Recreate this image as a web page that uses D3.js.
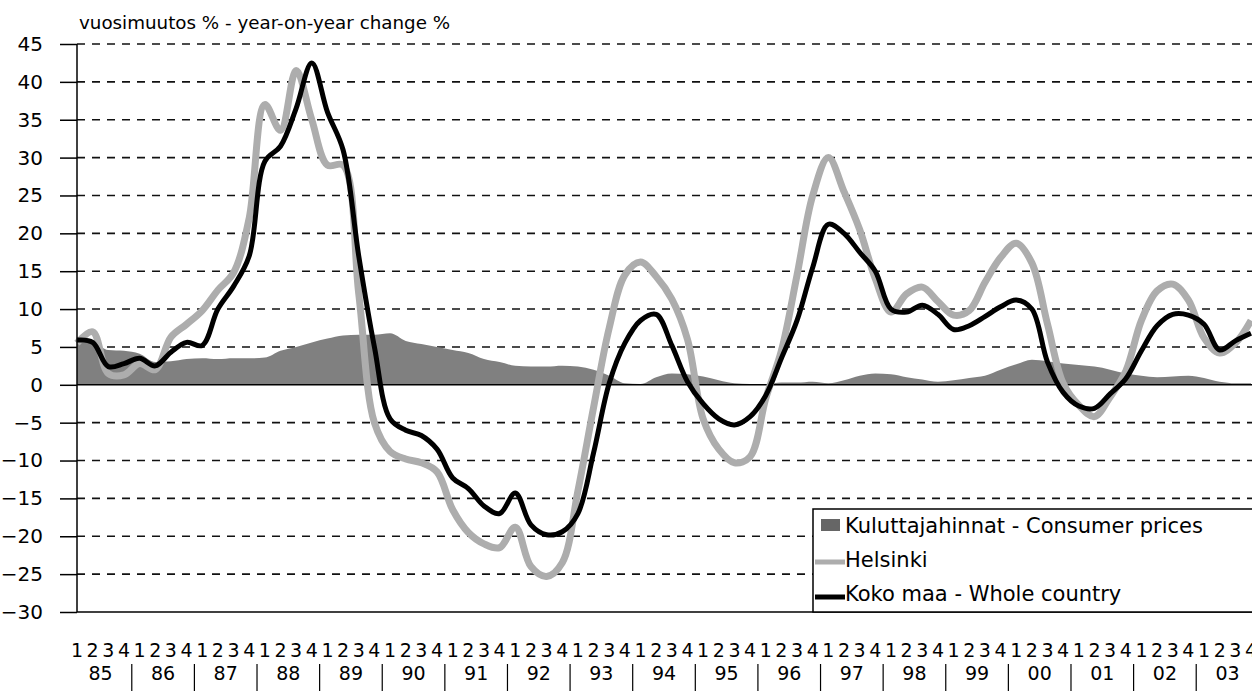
<!DOCTYPE html>
<html>
<head>
<meta charset="utf-8">
<script src="https://cdn.jsdelivr.net/npm/d3@7"></script>
<style>
  body { margin: 0; background: #fff; }
  text { font-family: "DejaVu Sans", sans-serif; fill: #000; }
</style>
</head>
<body>
<div id="chart"></div>
<script>
// quarterly data 1985Q1 - 2003Q4
var years = ["85","86","87","88","89","90","91","92","93","94","95","96","97","98","99","00","01","02","03"];
var quarterLabels = ["1","2","3","4"];
var yTicks = [45,40,35,30,25,20,15,10,5,0,-5,-10,-15,-20,-25,-30];

var consumerPrices = [5.6,5.5,4.6,4.5, 4.1,3.0,3.1,3.4, 3.5,3.4,3.5,3.5, 3.6,4.5,5.0,5.6,
  6.1,6.5,6.6,6.6, 6.8,5.8,5.4,5.0, 4.6,4.2,3.4,3.0, 2.5,2.4,2.4,2.5,
  2.4,2.0,1.2,0.2, 0.1,1.0,1.5,1.4, 1.1,0.6,0.2,0.1, 0.1,0.3,0.3,0.4,
  0.2,0.6,1.2,1.5, 1.4,1.0,0.7,0.4, 0.6,0.9,1.2,2.0, 2.7,3.3,3.1,2.8,
  2.6,2.4,2.0,1.5, 1.2,1.0,1.1,1.2, 0.9,0.4,0.2,0.2];

var helsinki = [5.5,7.0,1.5,1.3, 2.8,2.0,6.3,8.0, 9.8,12.5,14.8,22, 37,33.6,41.5,35,
  29,29,12,-5, -8.8,-9.8,-10.3,-11.5, -16.5,-19.5,-21,-21.5, -18.8,-24,-25.3,-23.5,
  -14,-3,7.5,14.5, 16.2,14.3,11.3,6, -4.5,-8.5,-10.3,-9.5, -1.8,4.5,14.5,25,
  30,25.5,20.5,14, 9.6,12,12.9,11, 9.2,9.8,13.5,16.8, 18.7,16.1,8,0.2,
  -2.7,-4.2,-1.6,1.8, 8.5,12.4,13.3,11.2, 6.2,4.2,5.5,8.5];

var wholeCountry = [5.9,5.6,2.4,2.8, 3.5,2.5,4.3,5.6, 5.2,10,13,17, 29.5,31.5,36.5,42.5,
  36,31,17,5, -4.5,-6,-6.7,-8.5, -12.3,-13.7,-16,-17, -14.3,-18.5,-19.8,-19.4,
  -17,-9,0.2,5.5, 8.5,9.3,5.2,0.4, -2.5,-4.5,-5.3,-4.2, -1.4,3.5,8.5,15.5,
  21.2,20,17.5,15, 10,9.6,10.5,9.3, 7.3,7.8,9,10.3, 11.2,10,3,-1,
  -2.8,-3.1,-1.2,0.8, 4.5,7.8,9.3,9.2, 8,4.6,5.8,6.8];

var svgWidth = 1252;
var svgHeight = 691;

var svg = d3.select("#chart")
  .append("svg")
  .attr("width", svgWidth)
  .attr("height", svgHeight);

var nQ = years.length * 4;
var idx = d3.range(nQ);

var x = d3.scaleLinear().domain([0, nQ - 1]).range([77, 1251]);
var y = d3.scaleLinear().domain([-30, 45]).range([612, 44]);

// title
svg.append("text")
  .attr("x", 79)
  .attr("y", 29)
  .style("font-size", "18.3px")
  .text("vuosimuutos % - year-on-year change %");

// gridlines
svg.append("g")
  .selectAll("line")
  .data(yTicks.filter(d => d != 0 && d != -30))
  .enter()
  .append("line")
  .attr("x1", 77)
  .attr("x2", svgWidth)
  .attr("y1", d => y(d))
  .attr("y2", d => y(d))
  .attr("stroke", "#111")
  .attr("stroke-width", 1.6)
  .attr("stroke-dasharray", "8,7");

// consumer prices area
var area = d3.area()
  .x(d => x(d))
  .y0(y(0))
  .y1(d => y(consumerPrices[d]))
  .curve(d3.curveMonotoneX);

svg.append("path")
  .datum(idx)
  .attr("d", area)
  .attr("fill", "#808080");

// zero line and bottom axis
svg.append("line")
  .attr("x1", 77).attr("x2", svgWidth)
  .attr("y1", y(0)).attr("y2", y(0))
  .attr("stroke", "#000").attr("stroke-width", 1.5);

svg.append("line")
  .attr("x1", 77).attr("x2", svgWidth)
  .attr("y1", y(-30)).attr("y2", y(-30))
  .attr("stroke", "#000").attr("stroke-width", 1.5);

// lines
var lineH = d3.line()
  .x(d => x(d))
  .y(d => y(helsinki[d]))
  .curve(d3.curveCatmullRom.alpha(0.5));

var lineW = d3.line()
  .x(d => x(d))
  .y(d => y(wholeCountry[d]))
  .curve(d3.curveCatmullRom.alpha(0.5));

svg.append("path")
  .datum(idx)
  .attr("d", lineH)
  .attr("fill", "none")
  .attr("stroke", "#adadad")
  .attr("stroke-width", 7)
  .attr("stroke-linejoin", "round");

svg.append("path")
  .datum(idx)
  .attr("d", lineW)
  .attr("fill", "none")
  .attr("stroke", "#000")
  .attr("stroke-width", 5)
  .attr("stroke-linejoin", "round");

// y axis
var leftAxis = d3.axisLeft(y)
  .tickValues(yTicks)
  .tickSize(17)
  .tickPadding(17)
  .tickFormat(d3.format("d"));

var yAxisG = svg.append("g")
  .attr("transform", "translate(77,0)")
  .call(leftAxis);
yAxisG.select(".domain").attr("stroke", "#000").attr("stroke-width", 1.5)
  .attr("d", `M0,${y(45)}V${y(-30)}`);
yAxisG.selectAll(".tick line").attr("stroke", "#000").attr("stroke-width", 1.5);
yAxisG.selectAll(".tick text")
  .style("font-size", "20px")
  .style("font-family", "'DejaVu Sans', sans-serif");

// x axis: quarter digits
var qData = idx.map(i => ({i: i, q: quarterLabels[i % 4]}));
svg.append("g")
  .selectAll("text")
  .data(qData)
  .enter()
  .append("text")
  .attr("x", d => x(d.i))
  .attr("y", 656.5)
  .attr("text-anchor", "middle")
  .style("font-size", "19px")
  .text(d => d.q);

// year labels
svg.append("g")
  .selectAll("text")
  .data(years)
  .enter()
  .append("text")
  .attr("x", (d, k) => x(k * 4 + 1.5))
  .attr("y", 679.5)
  .attr("text-anchor", "middle")
  .style("font-size", "19px")
  .text(d => d);

// year separators
svg.append("g")
  .selectAll("line")
  .data(years.slice(1))
  .enter()
  .append("line")
  .attr("x1", (d, k) => x((k + 1) * 4 - 0.5))
  .attr("x2", (d, k) => x((k + 1) * 4 - 0.5))
  .attr("y1", 664)
  .attr("y2", 691)
  .attr("stroke", "#000")
  .attr("stroke-width", 1.2);

// legend
var legend = svg.append("g");
legend.append("rect")
  .attr("x", 813).attr("y", 509)
  .attr("width", 460).attr("height", 103)
  .attr("fill", "#fff")
  .attr("stroke", "#000").attr("stroke-width", 1.5);

legend.append("rect")
  .attr("x", 821).attr("y", 519)
  .attr("width", 19).attr("height", 12)
  .attr("fill", "#666");
legend.append("line")
  .attr("x1", 815).attr("x2", 845)
  .attr("y1", 562).attr("y2", 562)
  .attr("stroke", "#adadad").attr("stroke-width", 5);
legend.append("line")
  .attr("x1", 815).attr("x2", 845)
  .attr("y1", 597).attr("y2", 597)
  .attr("stroke", "#000").attr("stroke-width", 5);

var legendText = ["Kuluttajahinnat - Consumer prices", "Helsinki", "Koko maa - Whole country"];
legend.selectAll("text")
  .data(legendText)
  .enter()
  .append("text")
  .attr("x", 845)
  .attr("y", (d, k) => 533 + k * 34)
  .style("font-size", "21px")
  .text(d => d);
</script>
</body>
</html>
